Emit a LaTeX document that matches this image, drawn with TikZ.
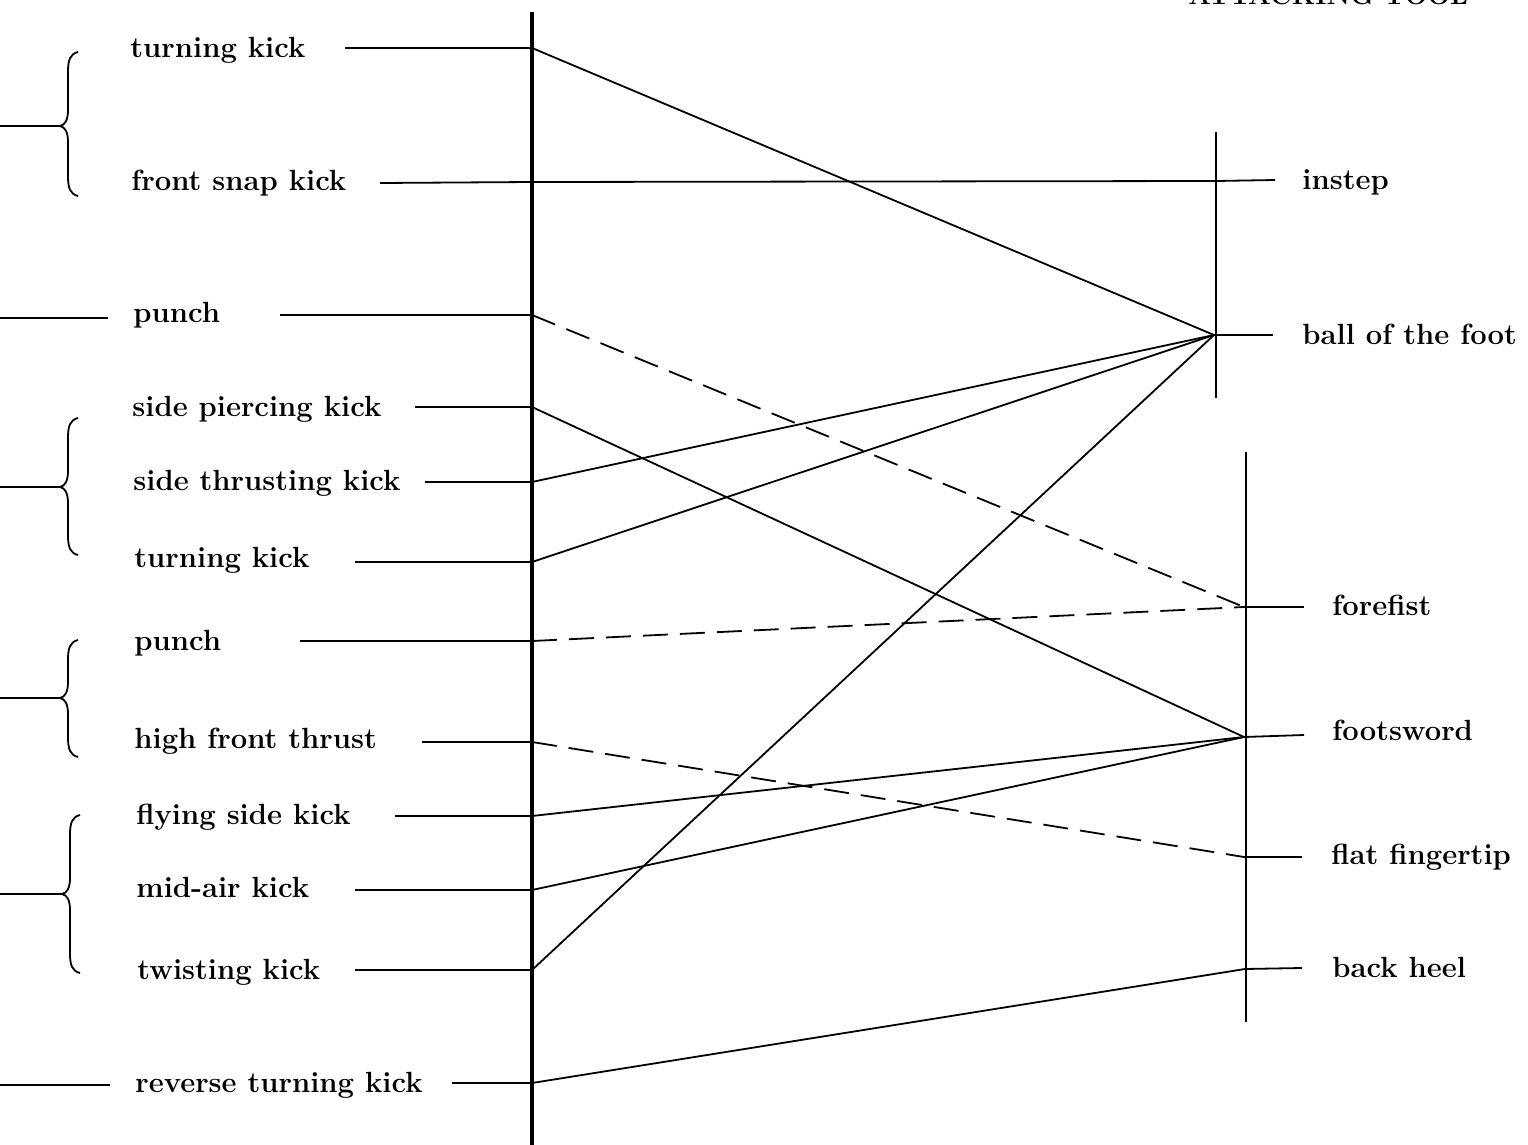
\documentclass[tikz,border=0pt]{standalone}
\usetikzlibrary{calc}
\begin{document}
\begin{tikzpicture}[x=0.5pt,y=-0.5pt,
  lbl/.style={anchor=mid west, inner sep=0pt, font=\fontsize{14.6pt}{17pt}\selectfont\bfseries},
  conn/.style={line width=0.9pt},
  dconn/.style={line width=0.9pt, dash pattern=on 12.5pt off 6pt},
  mainaxis/.style={line width=1.6pt},
  bar/.style={line width=1.3pt},
  brc/.style={line width=0.9pt}]
\useasboundingbox (0,0) rectangle (1528,1145);
\clip (0,0) rectangle (1528,1145);
\fill[white] (0,0) rectangle (1528,1145);

% heading (cut off at top, as in the reference)
\node[lbl, anchor=base west, font=\fontsize{13.4pt}{16pt}\selectfont\bfseries] (head) at (1188,5) {ATTACKING TOOL};

% vertical axes
\coordinate (axtop) at (532,12); \coordinate (axbot) at (532,1150);
\coordinate (b1top) at (1216,132); \coordinate (b1bot) at (1216,398);
\coordinate (b2top) at (1246,452); \coordinate (b2bot) at (1246,1022);
\draw[mainaxis] (axtop) -- (axbot);
\draw[bar] (b1top) -- (b1bot);
\draw[bar] (b2top) -- (b2bot);

% left labels
\node[lbl] (l1) at (130,53) {turning kick};
\node[lbl] (l2) at (131,186) {front snap kick};
\node[lbl] (l3) at (133,318) {punch};
\node[lbl] (l4) at (132,412) {side piercing kick};
\node[lbl] (l5) at (133,486) {side thrusting kick};
\node[lbl] (l6) at (134,563) {turning kick};
\node[lbl] (l7) at (134,646) {punch};
\node[lbl] (l8) at (134,744) {high front thrust};
\node[lbl] (l9) at (136,820) {flying side kick};
\node[lbl] (l10) at (136,893) {mid-air kick};
\node[lbl] (l11) at (137,975) {twisting kick};
\node[lbl] (l12) at (135,1088) {reverse turning kick};

% right labels
\node[lbl] (r1) at (1302,185) {instep};
\node[lbl] (r2) at (1302,340) {ball of the foot};
\node[lbl] (r3) at (1332,611) {forefist};
\node[lbl] (r4) at (1332,736) {footsword};
\node[lbl] (r5) at (1331,860) {flat fingertip};
\node[lbl] (r6) at (1332,973) {back heel};

% start points of label lines
\coordinate (s1) at (345,48);
\coordinate (s2) at (380,183);
\coordinate (s3) at (280,315);
\coordinate (s4) at (415,407);
\coordinate (s5) at (425,482);
\coordinate (s6) at (355,562);
\coordinate (s7) at (300,641);
\coordinate (s8) at (422,742);
\coordinate (s9) at (395,816);
\coordinate (s10) at (355,890);
\coordinate (s11) at (355,970);
\coordinate (s12) at (452,1083);

% junctions on main axis
\coordinate (j1) at (532,48);
\coordinate (j2) at (532,182);
\coordinate (j3) at (532,315);
\coordinate (j4) at (532,407);
\coordinate (j5) at (532,482);
\coordinate (j6) at (532,562);
\coordinate (j7) at (532,641);
\coordinate (j8) at (532,742);
\coordinate (j9) at (532,816);
\coordinate (j10) at (532,890);
\coordinate (j11) at (532,970);
\coordinate (j12) at (532,1083);

% right junctions and line ends
\coordinate (kinstep) at (1216,181);  \coordinate (einstep) at (1275,180);
\coordinate (kball) at (1214,335);    \coordinate (eball) at (1273,335);
\coordinate (kfore) at (1244,607);    \coordinate (efore) at (1304,607);
\coordinate (kfoot) at (1244,737);    \coordinate (efoot) at (1304,735);
\coordinate (kflat) at (1244,857);    \coordinate (eflat) at (1302,857);
\coordinate (kheel) at (1245,969);    \coordinate (eheel) at (1302,968);

% label stubs
\foreach \i in {1,3,4,5,6,7,8,9,10,11,12} {\draw[conn] (s\i) -- (j\i);}
\draw[conn] (kball) -- (eball);
\draw[conn] (kfore) -- (efore);
\draw[conn] (kfoot) -- (efoot);
\draw[conn] (kflat) -- (eflat);
\draw[conn] (kheel) -- (eheel);

% connections
\draw[conn] (s2) -- (j2) -- (kinstep) -- (einstep);
\draw[conn] (j1) -- (kball);
\draw[dconn] (j3) -- (kfore);
\draw[conn] (j4) -- (kfoot);
\draw[conn] (j5) -- (kball);
\draw[conn] (j6) -- (kball);
\draw[dconn] (j7) -- (kfore);
\draw[dconn] (j8) -- (kflat);
\draw[conn] (j9) -- (kfoot);
\draw[conn] (j10) -- (kfoot);
\draw[conn] (j11) -- (kball);
\draw[conn] (j12) -- (kheel);

% hand-drawn braces: x of tip, top y, tip y, bottom y
\foreach \tx/\ty/\my/\by in {60/52/126/196, 60/418/487/555, 60/640/698/757, 62/815/894/973} {
  \draw[brc] (\tx+18,\ty) .. controls (\tx+10,\ty+2) and (\tx+8,\ty+8) .. (\tx+8,\ty+20)
    -- (\tx+8,\my-16) .. controls (\tx+8,\my-6) and (\tx+5,\my-1) .. (\tx,\my)
    .. controls (\tx+5,\my+1) and (\tx+8,\my+6) .. (\tx+8,\my+16)
    -- (\tx+8,\by-20) .. controls (\tx+8,\by-8) and (\tx+10,\by-2) .. (\tx+18,\by);
}
\coordinate (t1) at (60,126); \coordinate (t2) at (60,487);
\coordinate (t3) at (60,698); \coordinate (t4) at (62,894);
\coordinate (o1) at (0,126); \coordinate (o2) at (0,487);
\coordinate (o3) at (0,698); \coordinate (o4) at (0,894);
\coordinate (o5) at (0,318); \coordinate (p5) at (108,318);
\coordinate (o6) at (0,1085); \coordinate (p6) at (110,1085);
\foreach \i in {1,2,3,4} {\draw[conn] (o\i) -- (t\i);}
\draw[conn] (o5) -- (p5);
\draw[conn] (o6) -- (p6);
\end{tikzpicture}
\end{document}
